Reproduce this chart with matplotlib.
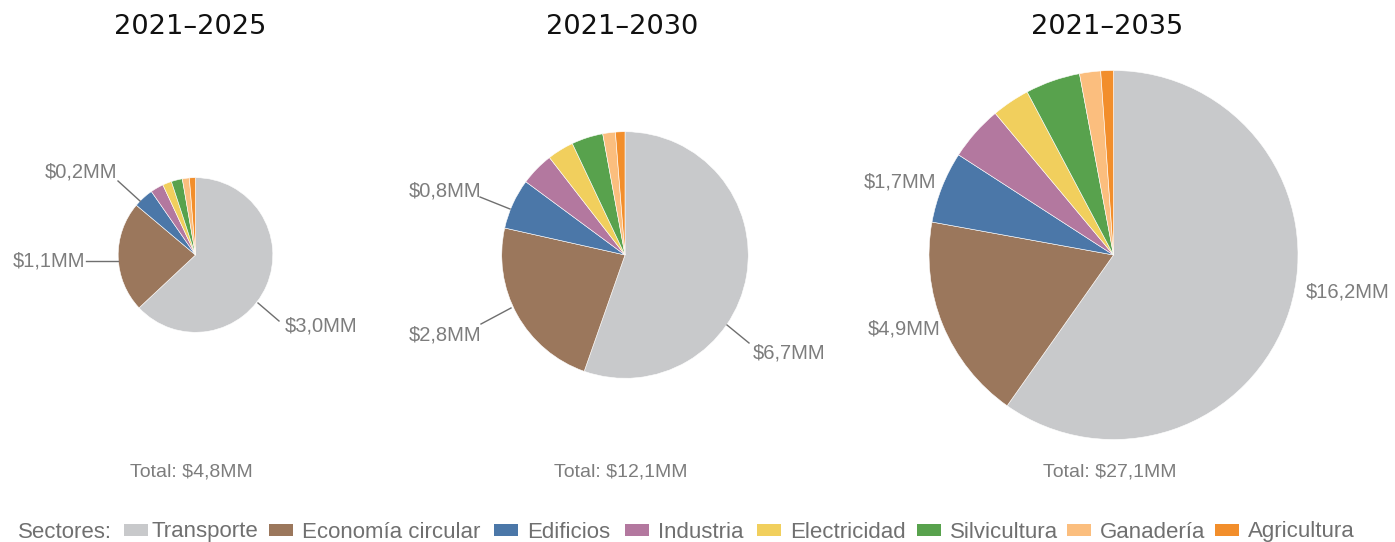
import matplotlib
matplotlib.use("Agg")
import matplotlib.pyplot as plt
from matplotlib.patches import Rectangle
import numpy as np

# --- data -------------------------------------------------------------
sectors = ["Transporte", "Economía circular", "Edificios", "Industria",
           "Electricidad", "Silvicultura", "Ganadería", "Agricultura"]
sector_colors = ["#c8c9cb", "#9b775c", "#4b77a8", "#b3789f",
                 "#f1cf5d", "#58a24d", "#fbbe7e", "#f28e2b"]

periods = ["2021–2025", "2021–2030", "2021–2035"]
inv_2025 = [3.0, 1.1, 0.2, 0.13, 0.09, 0.11, 0.07, 0.06]
inv_2030 = [6.7, 2.8, 0.8, 0.53, 0.42, 0.50, 0.20, 0.15]
inv_2035 = [16.2, 4.9, 1.7, 1.3, 0.9, 1.3, 0.5, 0.3]
series = [inv_2025, inv_2030, inv_2035]

# --- layout (pixel units, origin top-left) ----------------------------
W, H = 1395, 542
centers_px = [(195.5, 255), (625, 255), (1113.5, 255)]
max_radius = 184.5
title_x = [190.5, 622.5, 1107.5]
title_y = 27
total_y = 472

# callout labels: (sector index, text position, ha, leader line or None)
callouts = [
    [(2, (117, 172), "right", [(118, 181), (140, 201)]),
     (1, (85, 261), "right", [(86, 261), (118, 261)]),
     (0, (285, 326), "left", [(258, 303), (279, 321)])],
    [(2, (481, 191), "right", [(480, 197), (510, 209)]),
     (1, (481, 335), "right", [(481, 324), (511, 308)]),
     (0, (753, 353), "left", [(727, 325), (749, 343)])],
    [(2, (936, 182), "right", None),
     (1, (940, 329), "right", None),
     (0, (1306, 292), "left", None)],
]

legend_squares_x = [124, 269, 494, 625, 757, 917, 1067, 1215]
legend_y = 530

FONT = "Liberation Sans"
LABEL_GRAY = "#7d7d7d"
TEXT_GRAY = "#707070"


def fy(py):
    """Convert a top-down pixel row to the axes' bottom-up coordinate."""
    return H - py


def money(v):
    return f"${v:.1f}MM".replace(".", ",")


fig = plt.figure(figsize=(W / 100, H / 100), dpi=100)
ax = fig.add_axes([0, 0, 1, 1])

grand_max = sum(inv_2035)
for i, values in enumerate(series):
    total = sum(values)
    cx, cy = centers_px[i]
    radius = max_radius * np.sqrt(total / grand_max)
    ax.pie(values, colors=sector_colors, startangle=90, counterclock=False,
           center=(cx, fy(cy)), radius=radius, frame=True,
           wedgeprops=dict(edgecolor="white", linewidth=0.4))

    ax.text(title_x[i], fy(title_y), periods[i], ha="center", va="center",
            fontsize=19.6, color="#111111", family="DejaVu Sans")
    ax.text(cx - 4, fy(total_y), "Total: " + money(total), ha="center",
            va="center", fontsize=14, color=LABEL_GRAY, family=FONT)

    for idx, (tx, ty), ha, line in callouts[i]:
        ax.text(tx, fy(ty), money(values[idx]), ha=ha, va="center",
                fontsize=14.5, color=LABEL_GRAY, family=FONT)
        if line is not None:
            (x0, y0), (x1, y1) = line
            ax.plot([x0, x1], [fy(y0), fy(y1)], color="#6f6f6f", lw=1.0)

# legend row
text_y = fy(legend_y + 2)
ax.text(18, text_y, "Sectores:", ha="left", va="center",
        fontsize=16, color=TEXT_GRAY, family=FONT)
sq_w, sq_h = 24, 12
for name, col, sx in zip(sectors, sector_colors, legend_squares_x):
    ax.add_patch(Rectangle((sx, fy(legend_y) - sq_h / 2), sq_w, sq_h,
                           facecolor=col, edgecolor="none"))
    gap = 3 if name == "Transporte" else 9
    ax.text(sx + sq_w + gap, text_y, name, ha="left", va="center",
            fontsize=16, color=TEXT_GRAY, family=FONT)

ax.set_xlim(0, W)
ax.set_ylim(0, H)
ax.set_aspect("equal")
ax.axis("off")

fig.savefig("out.png", dpi=100, facecolor="white")
